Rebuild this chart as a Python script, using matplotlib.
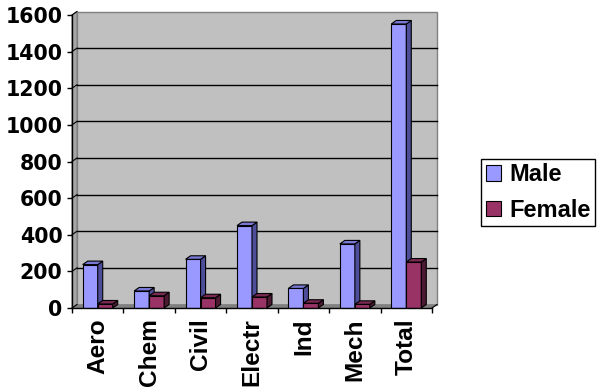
import matplotlib
matplotlib.use("Agg")
import matplotlib.pyplot as plt
from matplotlib.patches import Polygon, Patch

categories = ["Aero", "Chem", "Civil", "Electr", "Ind", "Mech", "Total"]
male = [237, 93, 266, 450, 107, 350, 1551]
female = [22, 67, 56, 60, 26, 20, 251]
series_names = ["Male", "Female"]
yticks = [0, 200, 400, 600, 800, 1000, 1200, 1400, 1600]

plt.rcParams['font.family'] = ['Liberation Sans', 'DejaVu Sans']

W, H = 611, 389
fig = plt.figure(figsize=(W / 100, H / 100), dpi=100)
ax = fig.add_axes([72 / W, 81 / H, 360 / W, 293 / H])
ax.set_xlim(0, len(categories))
ax.set_ylim(0, 1600)
ax.patch.set_visible(False)

# 3D depth offsets in data units
dx = 5 / (360 / len(categories))
dy = 3.5 * 1600 / 293
ymax = 1600
n = len(categories)

# back wall
ax.add_patch(Polygon([(dx, dy), (n + dx, dy), (n + dx, ymax + dy), (dx, ymax + dy)],
                     closed=True, fc='#C0C0C0', ec='#808080', lw=1, zorder=0, clip_on=False))
# left wall
ax.add_patch(Polygon([(0, 0), (dx, dy), (dx, ymax + dy), (0, ymax)],
                     closed=True, fc='#A6A6A6', ec='#808080', lw=0.8, zorder=0, clip_on=False))
# floor
ax.add_patch(Polygon([(0, 0), (n, 0), (n + dx, dy), (dx, dy)],
                     closed=True, fc='#808080', ec='#808080', lw=0.5, zorder=0.5, clip_on=False))
# grid lines
for t in yticks[1:-1]:
    ax.plot([dx, n + dx], [t + dy, t + dy], color='black', lw=1, zorder=0.6, clip_on=False)
for t in yticks:
    ax.plot([0, dx], [t, t + dy], color='black', lw=0.8, zorder=0.6, clip_on=False)
ax.plot([n, n + dx], [0, dy], color='black', lw=0.8, zorder=0.6, clip_on=False)

w = 15 / (360 / len(categories))
styles = [
    ('#9999FF', '#4D4D99', '#7A7AD6'),
    ('#993366', '#4D1A33', '#7A2952'),
]
z = 2
for i in range(n):
    for s, vals in enumerate([male, female]):
        front, side, top = styles[s]
        x0 = i + 0.5 - w if s == 0 else i + 0.5
        v = vals[i]
        ax.bar(x0, v, width=w, align='edge', color=front, edgecolor='black', lw=0.8, zorder=z)
        ax.add_patch(Polygon([(x0 + w, 0), (x0 + w + dx, dy), (x0 + w + dx, v + dy), (x0 + w, v)],
                             closed=True, fc=side, ec='black', lw=0.8, zorder=z, clip_on=False))
        ax.add_patch(Polygon([(x0, v), (x0 + dx, v + dy), (x0 + w + dx, v + dy), (x0 + w, v)],
                             closed=True, fc=top, ec='black', lw=0.8, zorder=z, clip_on=False))
        z += 0.1

for sp in ['top', 'right']:
    ax.spines[sp].set_visible(False)
for sp in ['left', 'bottom']:
    ax.spines[sp].set_color('black')
    ax.spines[sp].set_linewidth(1)
    ax.spines[sp].set_zorder(5)

ax.set_yticks(yticks)
ax.set_yticklabels([str(t) for t in yticks], fontsize=14.8, fontweight='bold',
                   family='DejaVu Sans')
ax.tick_params(axis='y', length=3.6, width=1, pad=3.2)
ax.set_xticks(range(n + 1))
ax.set_xticklabels([''] * (n + 1))
ax.tick_params(axis='x', which='major', length=3.6, width=1)
ax.set_xticks([i + 0.5 for i in range(n)], minor=True)
ax.set_xticklabels(categories, minor=True, rotation=90, fontsize=17.6, fontweight='bold')
ax.tick_params(axis='x', which='minor', length=0, pad=7.5)

handles = [Patch(fc=styles[0][0], ec='black', lw=0.8), Patch(fc=styles[1][0], ec='black', lw=0.8)]
leg = fig.legend(handles, series_names, loc='center', bbox_to_anchor=(538 / W, 1 - 192.5 / H),
                 frameon=True, fancybox=False, edgecolor='black', framealpha=1,
                 prop={'size': 17, 'weight': 'bold'}, handlelength=0.64, handleheight=0.64,
                 handletextpad=0.34, borderpad=0.2, labelspacing=0.52, borderaxespad=0)
leg.get_frame().set_linewidth(1)

fig.savefig('out.png', dpi=100)
